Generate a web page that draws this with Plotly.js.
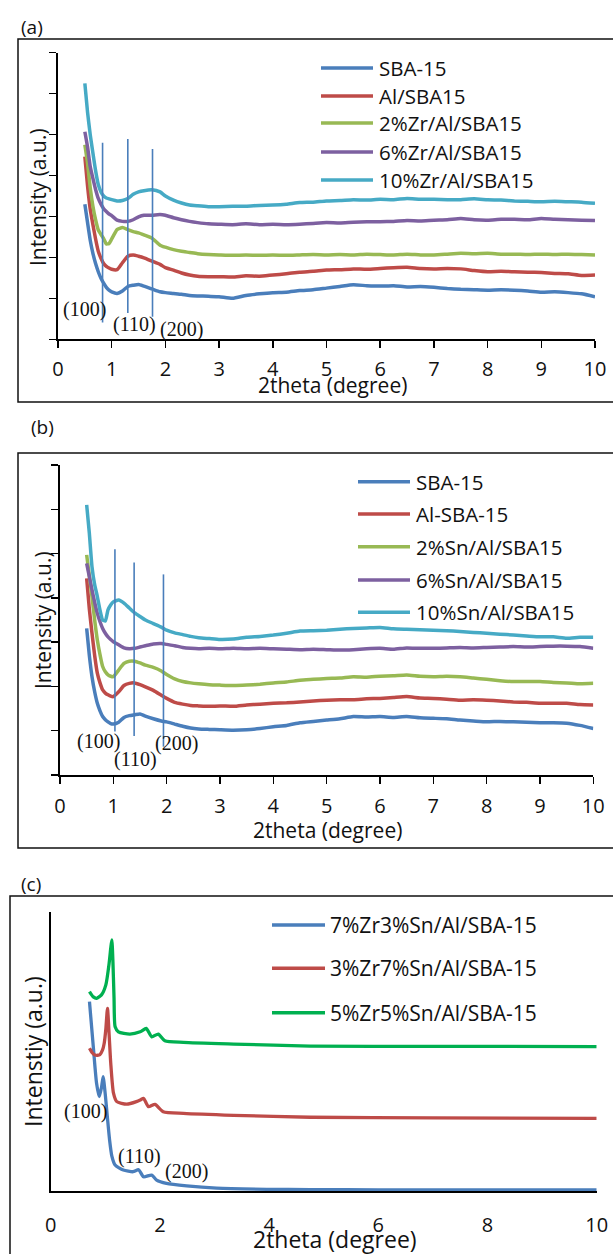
<!DOCTYPE html>
<html>
<head>
<meta charset="utf-8">
<script src="https://cdn.plot.ly/plotly-3.0.1.min.js"></script>
<style>html,body{margin:0;padding:0;background:#fff;}#chart{width:613px;height:1254px;}</style>
</head>
<body>
<div id="chart"></div>
<script>
// ---------- DATA ----------
const xA = [0.5,0.55,0.6,0.65,0.7,0.75,0.8,0.85,0.9,0.95,1.0,1.1,1.2,1.3,1.4,1.5,1.6,1.75,1.9,2.0,2.15,2.3,2.45,2.6,2.8,3.0,3.25,3.5,3.75,4.0,4.25,4.5,4.75,5.0,5.25,5.5,5.75,6.0,6.25,6.5,6.75,7.0,7.25,7.5,7.75,8.0,8.25,8.5,8.75,9.0,9.25,9.5,9.75,10.0];

// panel (a)
const namesA = ['SBA-15','Al/SBA15','2%Zr/Al/SBA15','6%Zr/Al/SBA15','10%Zr/Al/SBA15'];
const sba15A = [3.30,2.85,2.42,2.10,1.85,1.65,1.49,1.37,1.27,1.20,1.16,1.12,1.18,1.29,1.32,1.34,1.30,1.23,1.16,1.14,1.12,1.10,1.07,1.06,1.05,1.04,1.00,1.07,1.11,1.14,1.15,1.19,1.21,1.25,1.29,1.33,1.31,1.30,1.31,1.28,1.29,1.27,1.24,1.22,1.21,1.20,1.21,1.20,1.18,1.15,1.16,1.14,1.11,1.04];
const alA = [4.46,3.75,3.18,2.80,2.45,2.15,1.98,1.85,1.78,1.74,1.71,1.70,1.87,2.03,2.06,2.03,1.99,1.91,1.83,1.75,1.69,1.62,1.57,1.54,1.53,1.53,1.52,1.55,1.54,1.57,1.60,1.64,1.66,1.69,1.70,1.72,1.71,1.73,1.75,1.76,1.73,1.72,1.73,1.72,1.68,1.65,1.66,1.65,1.64,1.63,1.61,1.60,1.56,1.57];
const zr2A = [4.75,4.30,3.70,3.25,2.92,2.67,2.56,2.46,2.33,2.34,2.45,2.68,2.73,2.68,2.63,2.60,2.55,2.47,2.30,2.25,2.19,2.15,2.12,2.09,2.07,2.06,2.05,2.06,2.05,2.06,2.05,2.06,2.07,2.06,2.07,2.06,2.08,2.07,2.06,2.08,2.06,2.06,2.08,2.10,2.09,2.10,2.08,2.08,2.07,2.08,2.07,2.08,2.07,2.06];
const zr6A = [5.07,4.70,4.22,3.93,3.66,3.44,3.30,3.19,3.12,3.06,3.02,2.91,2.88,2.88,2.92,2.99,3.03,3.03,3.05,3.03,2.97,2.92,2.88,2.85,2.82,2.81,2.80,2.82,2.80,2.81,2.80,2.81,2.83,2.85,2.84,2.86,2.87,2.87,2.88,2.90,2.89,2.91,2.92,2.95,2.92,2.91,2.93,2.93,2.92,2.95,2.93,2.92,2.91,2.90];
const zr10A = [6.25,5.55,5.00,4.55,4.12,3.78,3.60,3.50,3.45,3.43,3.41,3.38,3.39,3.44,3.54,3.60,3.63,3.65,3.60,3.50,3.40,3.33,3.28,3.26,3.24,3.24,3.25,3.25,3.27,3.28,3.30,3.34,3.35,3.38,3.39,3.41,3.40,3.42,3.41,3.44,3.42,3.42,3.41,3.41,3.43,3.41,3.40,3.38,3.37,3.36,3.37,3.36,3.35,3.32];

// panel (b)
const namesB = ['SBA-15','Al-SBA-15','2%Sn/Al/SBA15','6%Sn/Al/SBA15','10%Sn/Al/SBA15'];
const sba15B = [3.31,2.70,2.22,1.88,1.62,1.45,1.32,1.25,1.20,1.16,1.15,1.19,1.30,1.34,1.36,1.38,1.33,1.27,1.22,1.20,1.15,1.10,1.06,1.04,1.03,1.02,1.01,1.02,1.05,1.09,1.12,1.18,1.21,1.24,1.27,1.32,1.31,1.32,1.30,1.32,1.29,1.28,1.27,1.24,1.22,1.20,1.21,1.20,1.19,1.18,1.18,1.17,1.12,1.05];
const alB = [4.44,3.75,3.20,2.70,2.30,2.08,1.92,1.85,1.81,1.78,1.77,1.88,2.02,2.07,2.08,2.04,1.99,1.91,1.80,1.73,1.64,1.60,1.57,1.56,1.55,1.56,1.55,1.58,1.60,1.62,1.63,1.65,1.67,1.69,1.70,1.70,1.72,1.73,1.75,1.77,1.74,1.73,1.71,1.69,1.70,1.69,1.67,1.65,1.64,1.62,1.62,1.62,1.59,1.58];
const sn2B = [4.97,4.50,4.03,3.50,3.05,2.72,2.45,2.33,2.26,2.23,2.22,2.37,2.52,2.57,2.57,2.53,2.48,2.43,2.35,2.27,2.17,2.11,2.08,2.06,2.04,2.03,2.02,2.03,2.05,2.08,2.10,2.14,2.16,2.18,2.19,2.22,2.21,2.23,2.24,2.26,2.23,2.22,2.23,2.22,2.19,2.16,2.13,2.11,2.11,2.11,2.09,2.08,2.06,2.07];
const sn6B = [4.78,4.48,4.18,3.90,3.65,3.46,3.31,3.20,3.12,3.06,3.01,2.94,2.87,2.85,2.86,2.89,2.92,2.96,2.97,2.95,2.92,2.88,2.86,2.85,2.86,2.85,2.86,2.85,2.86,2.85,2.84,2.83,2.84,2.83,2.82,2.83,2.85,2.86,2.84,2.87,2.86,2.86,2.87,2.88,2.87,2.88,2.89,2.90,2.89,2.90,2.91,2.91,2.90,2.86];
const sn10B = [6.10,5.46,4.70,4.30,4.03,3.72,3.50,3.48,3.73,3.84,3.91,3.95,3.88,3.77,3.66,3.58,3.50,3.42,3.34,3.27,3.21,3.17,3.13,3.10,3.08,3.06,3.07,3.11,3.13,3.16,3.20,3.25,3.26,3.27,3.29,3.31,3.32,3.33,3.30,3.29,3.28,3.27,3.26,3.24,3.22,3.20,3.18,3.16,3.14,3.12,3.12,3.09,3.11,3.11];

// panel (c)
const namesC = ['7%Zr3%Sn/Al/SBA-15','3%Zr7%Sn/Al/SBA-15','5%Zr5%Sn/Al/SBA-15'];
const x7Zr3Sn = [0.71,0.78,0.84,0.89,0.93,0.96,1.00,1.04,1.08,1.12,1.18,1.33,1.51,1.61,1.70,1.85,1.94,2.12,2.49,3.04,3.96,4.75,6.0,8.0,10.0];
const y7Zr3Sn = [6.78,5.17,3.86,3.38,3.70,4.09,3.45,2.60,1.80,1.25,0.93,0.75,0.69,0.76,0.51,0.57,0.39,0.27,0.18,0.10,0.06,0.05,0.04,0.04,0.04];
const x3Zr7Sn = [0.71,0.76,0.81,0.86,0.90,0.95,0.98,1.01,1.04,1.07,1.10,1.15,1.21,1.39,1.57,1.65,1.70,1.79,1.91,2.06,2.43,3.35,4.75,7.0,10.0];
const y3Zr7Sn = [5.11,4.95,4.87,4.86,4.88,5.05,5.29,5.80,6.54,5.60,4.57,3.50,3.20,3.11,3.20,3.27,3.32,3.02,3.10,2.84,2.78,2.71,2.64,2.62,2.60];
const x5Zr5Sn = [0.71,0.78,0.84,0.93,1.01,1.07,1.10,1.12,1.14,1.16,1.18,1.24,1.45,1.64,1.75,1.85,1.97,2.09,2.43,3.35,4.75,7.0,10.0];
const y5Zr5Sn = [7.14,6.95,6.90,7.02,7.38,8.15,8.70,8.99,8.20,6.90,5.88,5.70,5.62,5.70,5.82,5.52,5.62,5.38,5.32,5.26,5.19,5.18,5.17];

// reflection markers
const hklLabels = ['(100)','(110)','(200)'];
const peakXA = [0.83,1.30,1.76], peakTopA = [4.80,4.89,4.65], peakBotA = [0.41,0.64,0.55];
const peakXB = [1.03,1.39,1.94], peakTopB = [5.10,4.80,4.53], peakBotB = [0.98,0.88,0.64];
const labXA = [0.49,1.42,2.30], labYA = [0.72,0.35,0.23];
const labXB = [0.72,1.41,2.19], labYB = [0.75,0.35,0.72];
const labXC = [0.646,1.635,2.48], labYC = [2.84,1.23,0.69];

const xTickVals = [0,1,2,3,4,5,6,7,8,9,10];
const xTickValsC = [0,2,4,6,8,10];

// ---------- STYLE ----------
const W = 613, H = 1254;
const PX = p => p / W, PY = p => 1 - p / H;
const colAB = ['#4A7EBB','#BE4B48','#98B954','#7D60A0','#46AAC5'];
const colC = ['#4A7EBB','#BE4B48','#00B050'];
const SANS = 'Open Sans, Arial, sans-serif';
const SERIF = 'Liberation Serif, Times New Roman, serif';

const traces = [];
[sba15A, alA, zr2A, zr6A, zr10A].forEach((y, i) => traces.push({
  x: xA, y: y, xaxis: 'x', yaxis: 'y', type: 'scatter', mode: 'lines', name: namesA[i],
  line: {color: colAB[i], width: 3.5, shape: 'spline', smoothing: 0.5}
}));
[sba15B, alB, sn2B, sn6B, sn10B].forEach((y, i) => traces.push({
  x: xA, y: y, xaxis: 'x2', yaxis: 'y2', type: 'scatter', mode: 'lines', name: namesB[i],
  line: {color: colAB[i], width: 3.5, shape: 'spline', smoothing: 0.5}
}));
[[x7Zr3Sn, y7Zr3Sn], [x3Zr7Sn, y3Zr7Sn], [x5Zr5Sn, y5Zr5Sn]].forEach((d, i) => traces.push({
  x: d[0], y: d[1], xaxis: 'x3', yaxis: 'y3', type: 'scatter', mode: 'lines', name: namesC[i],
  line: {color: colC[i], width: 3.3, shape: 'spline', smoothing: 0.6}
}));
peakXA.forEach((px, i) => traces.push({
  x: [px, px], y: [peakBotA[i], peakTopA[i]], xaxis: 'x', yaxis: 'y', mode: 'lines',
  line: {color: '#4A7EBB', width: 1.6}, hoverinfo: 'skip'
}));
peakXB.forEach((px, i) => traces.push({
  x: [px, px], y: [peakBotB[i], peakTopB[i]], xaxis: 'x2', yaxis: 'y2', mode: 'lines',
  line: {color: '#4A7EBB', width: 1.6}, hoverinfo: 'skip'
}));

function xax(anchor, domain, tickvals, ticks, standoff) {
  return {
    anchor: anchor, domain: domain, range: [0, 10], tickvals: tickvals, ticktext: tickvals.map(String),
    showline: true, linecolor: '#000', linewidth: 2, ticks: ticks, ticklen: 7, tickwidth: 1.5,
    tickcolor: '#000', showgrid: false, zeroline: false, fixedrange: true,
    tickfont: {family: SANS, size: 20, color: '#111'}, ticklabelstandoff: standoff
  };
}
function yax(anchor, domain, range, ticks) {
  return {
    anchor: anchor, domain: domain, range: range, dtick: 1, tick0: 0, showticklabels: false,
    showline: true, linecolor: '#000', linewidth: 2, ticks: ticks, ticklen: 7, tickwidth: 1.5,
    tickcolor: '#000', showgrid: false, zeroline: false, fixedrange: true
  };
}

const annotations = [];
const shapes = [];
function txt(x, y, text, size, opts) {
  annotations.push(Object.assign({
    xref: 'paper', yref: 'paper', x: PX(x), y: PY(y), text: text, showarrow: false,
    xanchor: 'center', yanchor: 'middle', font: {family: SANS, size: size, color: '#111'}
  }, opts || {}));
}
// panel frames
shapes.push({type: 'rect', xref: 'paper', yref: 'paper', x0: PX(18), x1: PX(616), y0: PY(402), y1: PY(39), line: {color: '#111', width: 1.5}});
shapes.push({type: 'rect', xref: 'paper', yref: 'paper', x0: PX(18), x1: PX(616), y0: PY(848), y1: PY(453), line: {color: '#111', width: 1.5}});
shapes.push({type: 'rect', xref: 'paper', yref: 'paper', x0: PX(10), x1: PX(616), y0: PY(1260), y1: PY(896), line: {color: '#111', width: 1.5}});

// panel labels
txt(32, 27, '(a)', 19);
txt(42, 427, '(b)', 19);
txt(31, 884, '(c)', 19);

// axis titles
txt(332, 385, '2theta (degree)', 21);
txt(38, 197, 'Intensity (a.u.)', 21, {textangle: -90});
txt(327, 830, '2theta (degree)', 21);
txt(43, 620, 'Intensity (a.u.)', 21, {textangle: -90});
txt(335, 1239, '2theta (degree)', 23);
txt(33, 1052, 'Intenstiy (a.u.)', 23, {textangle: -90});

// legends (drawn)
function legend(names, cols, x0, x1, xt, rows, size) {
  names.forEach((n, i) => {
    shapes.push({type: 'line', xref: 'paper', yref: 'paper', x0: PX(x0), x1: PX(x1), y0: PY(rows[i]), y1: PY(rows[i]), line: {color: cols[i], width: 3.5}});
    txt(xt, rows[i], n, size, {xanchor: 'left'});
  });
}
legend(namesA, colAB, 321, 373, 377, [68, 96, 123, 152, 180], 20.5);
legend(namesB, colAB, 358, 410, 414, [481.7, 514, 546.7, 580, 612.3], 20.5);
legend(namesC, colC, 272, 325, 328, [925, 968.3, 1012.7], 21);

// hkl labels
hklLabels.forEach((t, i) => {
  annotations.push({xref: 'x', yref: 'y', x: labXA[i], y: labYA[i], text: t, showarrow: false, font: {family: SERIF, size: 20, color: '#111'}});
  annotations.push({xref: 'x2', yref: 'y2', x: labXB[i], y: labYB[i], text: t, showarrow: false, font: {family: SERIF, size: 20, color: '#111'}});
  annotations.push({xref: 'x3', yref: 'y3', x: labXC[i], y: labYC[i], text: t, showarrow: false, font: {family: SERIF, size: 20, color: '#111'}});
});

const layout = {
  width: W, height: H, margin: {l: 0, r: 0, t: 0, b: 0}, showlegend: false,
  paper_bgcolor: '#fff', plot_bgcolor: 'rgba(0,0,0,0)',
  xaxis: xax('y', [PX(58), PX(595)], xTickVals, 'outside', 4),
  yaxis: yax('x', [PY(339.3), PY(52.7)], [0, 7], 'outside'),
  xaxis2: xax('y2', [PX(60), PX(593.3)], xTickVals, 'outside', 5),
  yaxis2: yax('x2', [PY(775), PY(465)], [0, 7], 'outside'),
  xaxis3: xax('y3', [PX(50.7), PX(596.7)], xTickValsC, '', 15),
  yaxis3: yax('x3', [PY(1191), PY(911.7)], [0, 10], ''),
  annotations: annotations, shapes: shapes
};

Plotly.newPlot('chart', traces, layout, {staticPlot: true, displayModeBar: false});
</script>
</body>
</html>
